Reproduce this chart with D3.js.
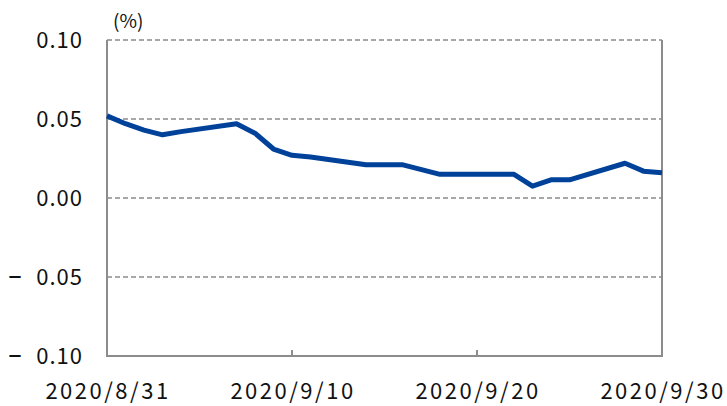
<!DOCTYPE html>
<html>
<head>
<meta charset="utf-8">
<script src="https://cdn.jsdelivr.net/npm/d3@7"></script>
<style>
  body { margin: 0; background: #fff; }
  svg text { font-family: "Noto Sans CJK JP", "Noto Sans", sans-serif; fill: #111; }
</style>
</head>
<body>
<div id="chart"></div>
<script>
// daily values (%)
const dates = ["2020-08-31", "2020-09-01", "2020-09-02", "2020-09-03", "2020-09-04",
    "2020-09-07", "2020-09-08", "2020-09-09", "2020-09-10", "2020-09-11",
    "2020-09-14", "2020-09-15", "2020-09-16", "2020-09-17", "2020-09-18",
    "2020-09-22", "2020-09-23", "2020-09-24", "2020-09-25",
    "2020-09-28", "2020-09-29", "2020-09-30"];
const values = [0.052, 0.047, 0.043, 0.040, 0.042,
    0.047, 0.041, 0.031, 0.027, 0.026,
    0.021, 0.021, 0.021, 0.018, 0.015,
    0.015, 0.0075, 0.0115, 0.0115,
    0.022, 0.017, 0.016];
const yTicks = [-0.10, -0.05, 0.00, 0.05, 0.10];
const xTicks = ["2020-08-31", "2020-09-10", "2020-09-20", "2020-09-30"];
const unitLabel = "(%)";

const parse = d3.timeParse("%Y-%m-%d");

let margin = {top: 40, right: 65, bottom: 50, left: 107},
    width = 727 - margin.left - margin.right,
    height = 406 - margin.top - margin.bottom;

let svg = d3.select("#chart").append("svg")
    .attr("width", 727)
    .attr("height", 406);

let g = svg.append("g")
    .attr("transform", "translate(" + margin.left + "," + margin.top + ")");

let x = d3.scaleTime()
    .domain([parse(xTicks[0]), parse(xTicks[xTicks.length - 1])])
    .range([0, width]);
let y = d3.scaleLinear()
    .domain([-0.10, 0.10])
    .range([height, 0]);

// dashed grid lines
g.selectAll(".grid")
    .data(yTicks.filter(t => t > -0.10))
    .enter().append("line")
    .attr("x1", 0)
    .attr("x2", width)
    .attr("y1", d => y(d))
    .attr("y2", d => y(d))
    .attr("stroke", "#8c8c8c")
    .attr("stroke-width", 1.5)
    .attr("stroke-dasharray", "5,3");

// left, bottom, right frame
g.append("path")
    .attr("d", "M0," + y(0.10) + "V" + height + "H" + width + "V" + y(0.10))
    .attr("fill", "none")
    .attr("stroke", "#8c8c8c")
    .attr("stroke-width", 2);

// y axis labels
g.selectAll(".ylab")
    .data(yTicks)
    .enter().append("text")
    .attr("x", -24)
    .attr("y", d => y(d))
    .attr("dy", "0.36em")
    .attr("text-anchor", "end")
    .style("font-size", "22px")
    .style("letter-spacing", "1px")
    .text(d => Math.abs(d).toFixed(2));

// minus signs for the negative labels
g.selectAll(".yneg")
    .data(yTicks.filter(t => t < 0))
    .enter().append("text")
    .attr("x", -85)
    .attr("y", d => y(d))
    .attr("dy", "0.3em")
    .attr("text-anchor", "end")
    .style("font-family", "'DejaVu Sans', sans-serif")
    .style("font-size", "28px")
    .text("\u2013");

// x axis: inward ticks and labels
let xAxis = g.append("g")
    .attr("transform", "translate(0," + height + ")");
xAxis.selectAll("line")
    .data(xTicks)
    .enter().append("line")
    .attr("x1", d => x(parse(d)))
    .attr("x2", d => x(parse(d)))
    .attr("y1", 0)
    .attr("y2", -6)
    .attr("stroke", "#8c8c8c")
    .attr("stroke-width", 2);
xAxis.selectAll("text")
    .data(xTicks)
    .enter().append("text")
    .attr("x", d => x(parse(d)) + 1)
    .attr("y", 43)
    .attr("text-anchor", "middle")
    .style("font-size", "22px")
    .style("letter-spacing", "2.5px")
    .text(d => d3.timeFormat("%Y/%-m/%-d")(parse(d)));

// unit label
svg.append("text")
    .attr("x", 113)
    .attr("y", 28)
    .style("font-size", "19px")
    .text(unitLabel);

// the series
let line = d3.line()
    .x((d, i) => x(parse(dates[i])))
    .y(d => y(d));

g.append("path")
    .datum(values)
    .attr("fill", "none")
    .attr("stroke", "#00429a")
    .attr("stroke-width", 5)
    .attr("stroke-linejoin", "round")
    .attr("d", line);
</script>
</body>
</html>
